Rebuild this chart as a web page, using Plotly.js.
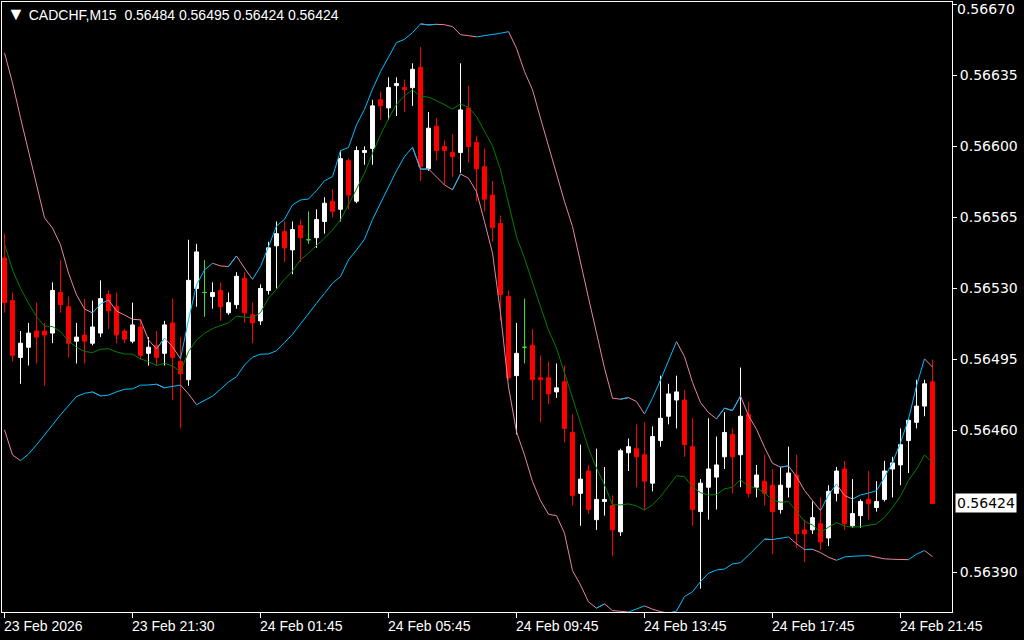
<!DOCTYPE html>
<html>
<head>
<meta charset="utf-8">
<script src="https://cdn.plot.ly/plotly-3.0.1.min.js"></script>
<style>
html,body{margin:0;padding:0;background:#000;}
#chart{width:1024px;height:640px;}
</style>
</head>
<body>
<div id="chart"></div>
<script>
// ---------- DATA ----------
const symbolTitle = "CADCHF,M15";

const openP = [0.56545,0.56524,0.56496,0.56501,0.56509,0.56509,0.56508,0.56528,0.56521,0.56504,
0.56507,0.56503,0.56508,0.56527,0.56521,0.56509,0.56504,0.56511,0.56498,0.56502,
0.56498,0.56513,0.56494,0.56485,0.56530,0.56528,0.56526,0.56529,0.56518,0.56522,
0.56535,0.56517,0.56514,0.56529,0.56551,0.56558,0.56549,0.56561,0.56554,0.56555,
0.56563,0.56573,0.56569,0.56593,0.56573,0.56597,0.56599,0.56623,0.56619,0.56630,
0.56629,0.56629,0.56639,0.56589,0.56610,0.56600,0.56597,0.56597,0.56619,0.56602,
0.56590,0.56576,0.56562,0.56526,0.56487,0.56501,0.56502,0.56486,0.56486,0.56479,
0.56484,0.56459,0.56429,0.56440,0.56416,0.56425,0.56423,0.56410,0.56449,0.56451,
0.56448,0.56434,0.56455,0.56467,0.56475,0.56475,0.56452,0.56420,0.56432,0.56437,
0.56447,0.56458,0.56448,0.56468,0.56432,0.56435,0.56433,0.56421,0.56432,0.56438,
0.56411,0.56411,0.56414,0.56407,0.56429,0.56441,0.56413,0.56418,0.56426,0.56422,
0.56426,0.56441,0.56443,0.56455,0.56464,0.56472,0.56484];

const highP = [0.56557,0.56528,0.56509,0.56513,0.56523,0.56513,0.56533,0.56544,0.56526,0.56513,
0.56525,0.56524,0.56534,0.56529,0.56528,0.56510,0.56523,0.56515,0.56506,0.56509,
0.56514,0.56525,0.56506,0.56554,0.56552,0.56544,0.56533,0.56533,0.56528,0.56538,
0.56538,0.56523,0.56532,0.56553,0.56563,0.56563,0.56563,0.56564,0.56568,0.56569,
0.56575,0.56579,0.56598,0.56594,0.56600,0.56600,0.56623,0.56627,0.56634,0.56634,
0.56633,0.56641,0.56649,0.56617,0.56614,0.56603,0.56606,0.56641,0.56630,0.56605,
0.56599,0.56583,0.56566,0.56529,0.56513,0.56525,0.56510,0.56497,0.56494,0.56493,
0.56492,0.56468,0.56453,0.56443,0.56451,0.56442,0.56428,0.56451,0.56456,0.56463,
0.56464,0.56462,0.56487,0.56483,0.56487,0.56480,0.56466,0.56436,0.56466,0.56457,
0.56469,0.56461,0.56491,0.56474,0.56443,0.56448,0.56441,0.56442,0.56452,0.56448,
0.56416,0.56425,0.56427,0.56433,0.56442,0.56445,0.56436,0.56426,0.56440,0.56435,
0.56445,0.56447,0.56461,0.56466,0.56485,0.56485,0.56495];

const lowP = [0.56518,0.56494,0.56483,0.56492,0.56493,0.56482,0.56503,0.56518,0.56496,0.56493,
0.56493,0.56502,0.56506,0.56510,0.56503,0.56503,0.56503,0.56495,0.56492,0.56492,
0.56492,0.56475,0.56461,0.56482,0.56521,0.56516,0.56520,0.56514,0.56517,0.56520,
0.56513,0.56503,0.56512,0.56527,0.56530,0.56543,0.56537,0.56543,0.56552,0.56550,
0.56557,0.56565,0.56563,0.56569,0.56572,0.56591,0.56591,0.56613,0.56613,0.56615,
0.56617,0.56620,0.56583,0.56588,0.56593,0.56581,0.56585,0.56587,0.56592,0.56573,
0.56568,0.56553,0.56514,0.56485,0.56458,0.56493,0.56475,0.56464,0.56473,0.56476,
0.56454,0.56423,0.56413,0.56419,0.56411,0.56418,0.56398,0.56408,0.56440,0.56432,
0.56421,0.56430,0.56452,0.56463,0.56461,0.56447,0.56413,0.56382,0.56416,0.56421,
0.56441,0.56429,0.56432,0.56427,0.56427,0.56423,0.56399,0.56419,0.56427,0.56402,
0.56395,0.56409,0.56401,0.56403,0.56425,0.56411,0.56412,0.56412,0.56416,0.56420,
0.56425,0.56427,0.56433,0.56439,0.56461,0.56467,0.56424];

const closeP = [0.56523,0.56497,0.56503,0.56508,0.56506,0.56507,0.56529,0.56522,0.56503,0.56506,
0.56504,0.56511,0.56525,0.56519,0.56507,0.56505,0.56512,0.56497,0.56501,0.56496,
0.56512,0.56496,0.56488,0.56534,0.56548,0.56528,0.56528,0.56521,0.56523,0.56536,
0.56518,0.56513,0.56530,0.56550,0.56557,0.56550,0.56559,0.56555,0.56554,0.56564,
0.56572,0.56568,0.56594,0.56576,0.56598,0.56598,0.56620,0.56620,0.56629,0.56631,
0.56628,0.56638,0.56590,0.56609,0.56598,0.56598,0.56595,0.56618,0.56600,0.56589,
0.56574,0.56560,0.56527,0.56486,0.56498,0.56501,0.56485,0.56485,0.56478,0.56481,
0.56461,0.56428,0.56436,0.56421,0.56426,0.56426,0.56411,0.56450,0.56452,0.56447,
0.56435,0.56457,0.56466,0.56478,0.56479,0.56453,0.56421,0.56434,0.56441,0.56443,
0.56459,0.56447,0.56467,0.56429,0.56438,0.56429,0.56420,0.56433,0.56439,0.56409,
0.56409,0.56417,0.56405,0.56430,0.56440,0.56414,0.56419,0.56425,0.56424,0.56425,
0.56440,0.56444,0.56453,0.56465,0.56472,0.56483,0.56424];

const upperBand = [0.566461,0.566313,0.566141,0.565973,0.565800,0.565648,0.565598,0.565515,0.565376,0.565268,
0.565199,0.565179,0.565224,0.565243,0.565189,0.565169,0.565148,0.565145,0.565046,0.565002,
0.565055,0.565013,0.564953,0.565145,0.565317,0.565391,0.565424,0.565411,0.565408,0.565460,
0.565400,0.565345,0.565408,0.565506,0.565608,0.565641,0.565712,0.565736,0.565741,0.565782,
0.565831,0.565851,0.565979,0.565995,0.566106,0.566183,0.566282,0.566369,0.566440,0.566512,
0.566528,0.566561,0.566604,0.566599,0.566602,0.566600,0.566591,0.566551,0.566546,0.566540,
0.566545,0.566550,0.566558,0.566566,0.566484,0.566369,0.566279,0.566139,0.565999,0.565860,
0.565728,0.565605,0.565424,0.565253,0.565081,0.564907,0.564759,0.564754,0.564762,0.564742,
0.564681,0.564759,0.564849,0.564944,0.565038,0.564964,0.564837,0.564737,0.564688,0.564657,
0.564710,0.564698,0.564770,0.564672,0.564606,0.564517,0.564438,0.564419,0.564425,0.564372,
0.564304,0.564254,0.564205,0.564282,0.564336,0.564279,0.564262,0.564282,0.564291,0.564303,
0.564369,0.564441,0.564540,0.564655,0.564819,0.564953,0.564912];

const middleBand = [0.565519,0.565391,0.565301,0.565227,0.565161,0.565115,0.565112,0.565087,0.565041,0.565010,
0.564989,0.564984,0.565000,0.565003,0.564987,0.564977,0.564976,0.564953,0.564939,0.564920,
0.564931,0.564918,0.564890,0.564989,0.565046,0.565079,0.565102,0.565115,0.565131,0.565163,
0.565158,0.565155,0.565181,0.565252,0.565296,0.565345,0.565386,0.565441,0.565474,0.565510,
0.565548,0.565588,0.565638,0.565712,0.565794,0.565868,0.565966,0.566057,0.566136,0.566208,
0.566249,0.566279,0.566246,0.566243,0.566226,0.566205,0.566185,0.566209,0.566193,0.566147,
0.566073,0.566003,0.565884,0.565712,0.565555,0.565449,0.565326,0.565210,0.565095,0.565005,
0.564884,0.564760,0.564627,0.564512,0.564414,0.564331,0.564234,0.564233,0.564238,0.564228,
0.564208,0.564233,0.564274,0.564323,0.564377,0.564372,0.564322,0.564293,0.564282,0.564284,
0.564312,0.564320,0.564356,0.564326,0.564315,0.564293,0.564257,0.564246,0.564249,0.564200,
0.564152,0.564134,0.564098,0.564123,0.564146,0.564129,0.564123,0.564126,0.564133,0.564139,
0.564172,0.564220,0.564277,0.564353,0.564409,0.564479,0.564441];

const lowerBand = [0.564603,0.564479,0.564451,0.564484,0.564529,0.564581,0.564627,0.564677,0.564721,0.564767,
0.564783,0.564790,0.564770,0.564774,0.564790,0.564803,0.564805,0.564823,0.564824,0.564828,
0.564810,0.564816,0.564824,0.564780,0.564727,0.564749,0.564769,0.564803,0.564839,0.564865,
0.564923,0.564961,0.564976,0.564977,0.564993,0.565033,0.565074,0.565125,0.565178,0.565227,
0.565276,0.565326,0.565358,0.565441,0.565490,0.565543,0.565640,0.565720,0.565800,0.565880,
0.565950,0.565996,0.565888,0.565889,0.565848,0.565810,0.565786,0.565864,0.565843,0.565777,
0.565629,0.565474,0.565180,0.564814,0.564593,0.564479,0.564348,0.564254,0.564187,0.564180,
0.564093,0.563909,0.563838,0.563755,0.563724,0.563745,0.563712,0.563707,0.563705,0.563719,
0.563735,0.563719,0.563707,0.563699,0.563710,0.563781,0.563805,0.563855,0.563896,0.563912,
0.563917,0.563942,0.563948,0.563985,0.564024,0.564064,0.564062,0.564070,0.564075,0.564041,
0.564013,0.564014,0.563998,0.563975,0.563960,0.563976,0.563980,0.563981,0.563983,0.563975,
0.563967,0.563965,0.563964,0.563963,0.563990,0.564008,0.563978];

const timeTickBars = [0, 16, 32, 48, 64, 80, 96, 112];
const timeTickLabels = ["23 Feb 2026","23 Feb 21:30","24 Feb 01:45","24 Feb 05:45",
                        "24 Feb 09:45","24 Feb 13:45","24 Feb 17:45","24 Feb 21:45"];
const priceTicks = [0.56390, 0.56460, 0.56495, 0.56530, 0.56565, 0.56600, 0.56635, 0.56670];

// ---------- STYLE ----------
const COL_BULL = '#ffffff', COL_BEAR = '#ff0000', COL_DOJI = '#33dd33';
const COL_UP = '#00bfff', COL_DOWN = '#e8849f', COL_MID = '#008000';
const AXIS_FONT = {family: 'DejaVu Sans, sans-serif', size: 14, color: '#ffffff'};

// ---------- BUILD ----------
const idx = openP.map((_, i) => i);
const normalIdx = idx.filter(i => openP[i] !== closeP[i]);
const dojiIdx = idx.filter(i => openP[i] === closeP[i]);
const pick = (arr, ids) => ids.map(i => arr[i]);

function candleTrace(ids, incCol, decCol) {
  return {
    type: 'candlestick',
    x: ids,
    open: pick(openP, ids), high: pick(highP, ids),
    low: pick(lowP, ids), close: pick(closeP, ids),
    increasing: {line: {color: incCol, width: 1}, fillcolor: incCol},
    decreasing: {line: {color: decCol, width: 1}, fillcolor: decCol},
    whiskerwidth: 0,
    hoverinfo: 'skip',
    showlegend: false
  };
}

function splitByDirection(vals) {
  const up = vals.map(() => null), down = vals.map(() => null);
  for (let i = 1; i < vals.length; i++) {
    const tgt = vals[i] > vals[i - 1] ? up : down;
    tgt[i - 1] = vals[i - 1];
    tgt[i] = vals[i];
  }
  return {up, down};
}

function lineTrace(y, color) {
  return {type: 'scatter', mode: 'lines', x: idx, y: y,
          line: {color: color, width: 1}, connectgaps: false,
          hoverinfo: 'skip', showlegend: false};
}

const ub = splitByDirection(upperBand);
const lb = splitByDirection(lowerBand);

const traces = [
  candleTrace(normalIdx, COL_BULL, COL_BEAR),
  candleTrace(dojiIdx, COL_DOJI, COL_DOJI),
  lineTrace(middleBand, COL_MID),
  lineTrace(ub.down, COL_DOWN), lineTrace(ub.up, COL_UP),
  lineTrace(lb.down, COL_DOWN), lineTrace(lb.up, COL_UP)
];

// price tick labels: the topmost one sits at the window edge, so it is drawn as
// an annotation pinned to the top so that it stays fully visible
const topTick = Math.max(...priceTicks);
const priceTickText = priceTicks.map(v => v === topTick ? '' : v.toFixed(5));

const last = openP.length - 1;
const header = '<span style="font-size:18px">\u25BC</span>\u00a0' + symbolTitle + '\u00a0\u00a0' +
  [openP[last], highP[last], lowP[last], closeP[last]].map(v => v.toFixed(5)).join(' ');

const annotations = [
  {xref: 'paper', yref: 'paper', x: 0, y: 1, xanchor: 'left', yanchor: 'top',
   xshift: 3, yshift: 0, showarrow: false, text: header,
   font: {family: 'Liberation Sans, Arial, sans-serif', size: 14, color: '#ffffff'}},
  {xref: 'paper', yref: 'paper', x: 1, y: 1, xanchor: 'left', yanchor: 'top',
   xshift: 4, yshift: 2, showarrow: false, borderpad: 0, text: topTick.toFixed(5),
   font: AXIS_FONT},
  {xref: 'paper', yref: 'y', x: 1, y: closeP[last], xanchor: 'left', yanchor: 'middle',
   xshift: 3, showarrow: false, text: closeP[last].toFixed(5), bgcolor: '#ffffff',
   borderpad: 1, font: {family: 'DejaVu Sans, sans-serif', size: 14, color: '#000000'}}
];
timeTickBars.forEach((b, k) => {
  annotations.push({xref: 'x', yref: 'paper', x: b, y: 0, xanchor: 'left', yanchor: 'top',
    xshift: -3, yshift: -4, showarrow: false, text: timeTickLabels[k],
    font: {family: 'Liberation Sans, Arial, sans-serif', size: 14, color: '#ffffff'}});
});

const layout = {
  width: 1024, height: 640,
  paper_bgcolor: '#000000', plot_bgcolor: '#000000',
  margin: {l: 2, r: 72, t: 2, b: 28, pad: 0},
  showlegend: false,
  dragmode: false,
  boxmode: 'overlay', boxgap: 0.3, boxgroupgap: 0.3,
  xaxis: {
    type: 'linear', range: [-0.3125, 118.4375],
    showgrid: false, zeroline: false,
    showline: true, linecolor: '#ffffff', linewidth: 1, mirror: true,
    tickmode: 'array', tickvals: timeTickBars, ticks: 'outside', ticklen: 5,
    tickcolor: '#ffffff', tickwidth: 1, showticklabels: false,
    rangeslider: {visible: false}, fixedrange: true
  },
  yaxis: {
    side: 'right', range: [0.563705, 0.566712],
    showgrid: false, zeroline: false,
    showline: true, linecolor: '#ffffff', linewidth: 1, mirror: true,
    tickmode: 'array', tickvals: priceTicks, ticktext: priceTickText,
    ticks: 'outside', ticklen: 4, tickcolor: '#ffffff', tickwidth: 1,
    tickfont: AXIS_FONT,
    fixedrange: true
  },
  annotations: annotations
};

Plotly.newPlot('chart', traces, layout, {displayModeBar: false, staticPlot: true});
</script>
</body>
</html>
